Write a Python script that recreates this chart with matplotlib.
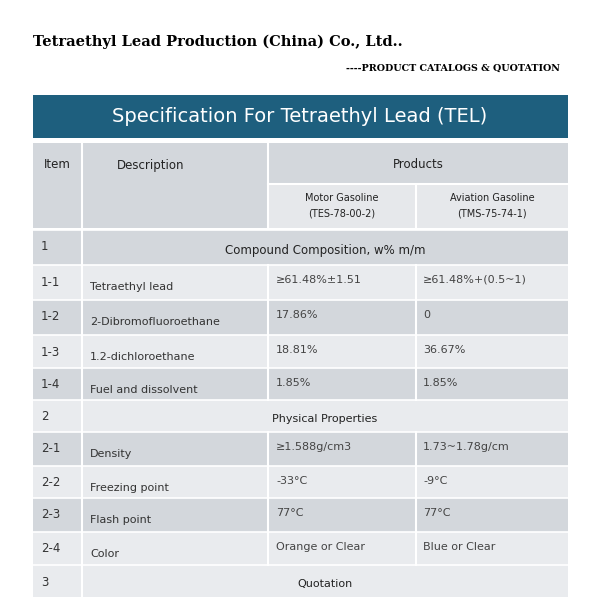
import matplotlib
matplotlib.use("Agg")
import matplotlib.pyplot as plt
from matplotlib.patches import Rectangle

items = ["1", "1-1", "1-2", "1-3", "1-4", "2", "2-1", "2-2", "2-3", "2-4", "3"]
descriptions = ["", "Tetraethyl lead", "2-Dibromofluoroethane", "1.2-dichloroethane",
                "Fuel and dissolvent", "", "Density", "Freezing point", "Flash point", "Color", ""]
motor = ["", "≥61.48%±1.51", "17.86%", "18.81%", "1.85%", "", "≥1.588g/cm3", "-33°C", "77°C",
         "Orange or Clear", ""]
aviation = ["", "≥61.48%+(0.5~1)", "0", "36.67%", "1.85%", "", "1.73~1.78g/cm", "-9°C", "77°C",
            "Blue or Clear", ""]
section_titles = {0: "Compound Composition, w% m/m", 5: "Physical Properties", 10: "Quotation"}

row_edges = [230, 265, 300, 335, 368, 400, 432, 466, 498, 532, 565, 597]
row_bg = ["#d3d7dc", "#e9ebee", "#d3d7dc", "#e9ebee", "#d3d7dc", "#e9ebee",
          "#d3d7dc", "#e9ebee", "#d3d7dc", "#e9ebee", "#e9ebee"]
cols = [33, 82, 268, 416, 568]

fig = plt.figure(figsize=(5.91, 5.97), dpi=100)
ax = fig.add_axes([0, 0, 1, 1])
ax.set_xlim(0, 591); ax.set_ylim(597, 0); ax.axis("off")

ax.text(33, 42, "Tetraethyl Lead Production (China) Co., Ltd..", family="DejaVu Serif",
        weight="bold", fontsize=10.5, va="center")
ax.text(560, 68, "----PRODUCT CATALOGS & QUOTATION", family="DejaVu Serif",
        weight="bold", fontsize=6.8, va="center", ha="right")

def rect(x0, y0, x1, y1, c):
    ax.add_patch(Rectangle((x0, y0), x1 - x0, y1 - y0, facecolor=c, edgecolor="none"))

rect(33, 95, 568, 138, "#1e5f7e")
ax.text(300, 117, "Specification For Tetraethyl Lead (TEL)", color="white",
        fontsize=14, ha="center", va="center")
rect(33, 143, 568, 228, "#d3d7dc")
rect(268, 185, 568, 228, "#e6e8eb")
ax.text(57, 165, "Item", fontsize=8.5, ha="center", va="center", color="#222")
ax.text(117, 165, "Description", fontsize=8.5, va="center", color="#222")
ax.text(418, 165, "Products", fontsize=8.5, ha="center", va="center", color="#222")
ax.text(342, 206, "Motor Gasoline\n(TES-78-00-2)", fontsize=7, ha="center", va="center",
        linespacing=1.7, color="#222")
ax.text(492, 206, "Aviation Gasoline\n(TMS-75-74-1)", fontsize=7, ha="center", va="center",
        linespacing=1.7, color="#222")
for x in cols[1:3]:
    ax.plot([x, x], [143, 228], color="white", lw=1.5)
ax.plot([268, 568], [184, 184], color="white", lw=1.5)
ax.plot([416, 416], [185, 228], color="white", lw=1.5)

for i in range(len(items)):
    y0, y1 = row_edges[i], row_edges[i + 1]
    rect(33, y0, 568, y1, row_bg[i])
    ax.plot([33, 568], [y0, y0], color="white", lw=1.2)
    ax.text(41, y0 + 17, items[i], fontsize=8.5, va="center", color="#333")
    ax.plot([82, 82], [y0, y1], color="white", lw=1.5)
    if i in section_titles:
        ax.text(325, (y0 + y1) / 2 + 3, section_titles[i], fontsize=8.5 if i == 0 else 8,
                ha="center", va="center", color="#222")
    else:
        ax.text(90, y0 + 22, descriptions[i], fontsize=8, va="center", color="#333")
        ax.text(276, y0 + 15, motor[i], fontsize=8, va="center", color="#444")
        ax.text(423, y0 + 15, aviation[i], fontsize=8, va="center", color="#444")
        for x in cols[2:4]:
            ax.plot([x, x], [y0, y1], color="white", lw=1.5)

fig.savefig("out.png", dpi=100, facecolor="white")
